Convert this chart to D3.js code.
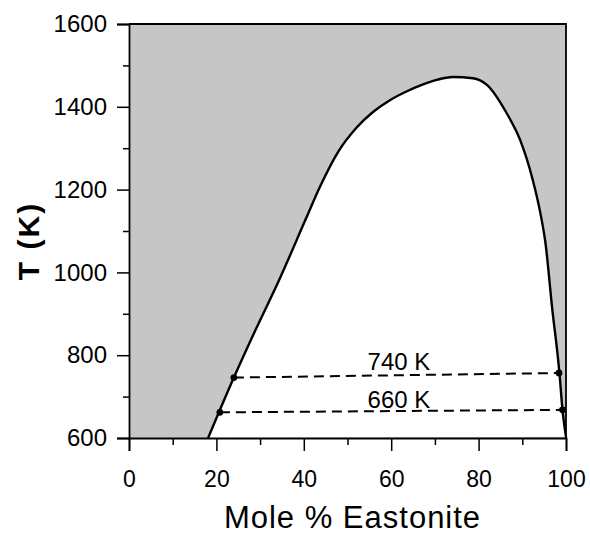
<!DOCTYPE html>
<html>
<head>
<meta charset="utf-8">
<script src="https://cdn.jsdelivr.net/npm/d3@7"></script>
<style>
  body { margin: 0; background: #fff; }
  svg { display: block; }
  text { font-family: "Liberation Sans", Arial, sans-serif; fill: #000; }
</style>
</head>
<body>
<svg id="chart" width="590" height="538"></svg>
<script>
// Miscibility-gap boundary (mole % eastonite, T in K)
const boundaryX = [18.1, 24.0, 29.0, 34.2, 40.5, 43.7, 47.9, 52.1, 55.9, 59.7, 63.5, 67.3, 70.4, 74.1, 78.7, 81.9, 86.4, 89.5, 92.4, 94.1, 95.3, 96.8, 98.5, 99.2, 100];
const boundaryT = [600, 746, 862, 978, 1130, 1207, 1292, 1350, 1388, 1416, 1437, 1454, 1465, 1472, 1469, 1453, 1385, 1320, 1223, 1145, 1071, 917, 757, 668, 603];

// Isotherm tie lines
const tieLabels = ["740 K", "660 K"];
const tieX1 = [24.0, 20.8];
const tieT1 = [746, 662];
const tieX2 = [98.4, 99.2];
const tieT2 = [757, 668];
const tieLabelX = [54.6, 54.6];
const tieLabelT = [764, 672];

const xTicks = [0, 20, 40, 60, 80, 100];
const xMinor = [10, 30, 50, 70, 90];
const yTicks = [600, 800, 1000, 1200, 1400, 1600];
const yMinor = [700, 900, 1100, 1300, 1500];

const svg = d3.select("#chart");
const mLeft = 129, mTop = 24, mRight = 566, mBottom = 438;
const x = d3.scaleLinear().domain([0, 100]).range([mLeft, mRight]);
const y = d3.scaleLinear().domain([600, 1600]).range([mBottom, mTop]);

// gray background of plot area
svg.append("rect")
  .attr("x", x(0)).attr("y", y(1600))
  .attr("width", x(100) - x(0)).attr("height", y(600) - y(1600))
  .attr("fill", "#c6c6c6");

const pts = boundaryX.map((d, i) => [d, boundaryT[i]]);
const curveLine = d3.line().x(d => x(d[0])).y(d => y(d[1])).curve(d3.curveMonotoneX);

// white interior of the gap
svg.append("path").attr("d", curveLine(pts) + "Z").attr("fill", "#fff");

// boundary curve
svg.append("path").attr("d", curveLine(pts))
  .attr("fill", "none").attr("stroke", "#000").attr("stroke-width", 2.4);

// frame (top and right)
svg.append("path")
  .attr("d", `M${x(0)},${y(1600)}H${x(100)}V${y(600)}`)
  .attr("fill", "none").attr("stroke", "#000").attr("stroke-width", 1.8);

// axes
svg.append("g").attr("class", "xmaj").attr("transform", `translate(0,${y(600)})`)
  .call(d3.axisBottom(x).tickValues(xTicks).tickSize(13).tickPadding(20).tickFormat(d3.format("d")));
svg.append("g").attr("transform", `translate(0,${y(600)})`)
  .call(d3.axisBottom(x).tickValues(xMinor).tickSize(7).tickFormat(""))
  .select(".domain").remove();
svg.append("g").attr("class", "ymaj").attr("transform", `translate(${x(0)},0)`)
  .call(d3.axisLeft(y).tickValues(yTicks).tickSize(12).tickPadding(10).tickFormat(d3.format("d")));
svg.append("g").attr("transform", `translate(${x(0)},0)`)
  .call(d3.axisLeft(y).tickValues(yMinor).tickSize(6).tickFormat(""))
  .select(".domain").remove();

svg.selectAll(".domain").attr("stroke", "#000").attr("stroke-width", 1.8);
svg.selectAll(".tick line").attr("stroke", "#000").attr("stroke-width", 1.5);
svg.selectAll(".tick text").attr("font-family", "'Liberation Sans', Arial, sans-serif").attr("fill", "#000");
svg.selectAll(".xmaj .tick text").attr("font-size", 23);
svg.selectAll(".ymaj .tick text").attr("font-size", 24);

// tie lines
tieLabels.forEach((lab, i) => {
  svg.append("line")
    .attr("x1", x(tieX1[i])).attr("y1", y(tieT1[i]))
    .attr("x2", x(tieX2[i])).attr("y2", y(tieT2[i]))
    .attr("stroke", "#000").attr("stroke-width", 2).attr("stroke-dasharray", "10,6");
  [[tieX1[i], tieT1[i]], [tieX2[i], tieT2[i]]].forEach(p => {
    svg.append("circle").attr("cx", x(p[0])).attr("cy", y(p[1])).attr("r", 3.4).attr("fill", "#000");
  });
  svg.append("text")
    .attr("x", x(tieLabelX[i])).attr("y", y(tieLabelT[i]))
    .attr("font-size", 24).text(lab);
});

// axis titles
svg.append("text")
  .attr("x", (x(0) + x(100)) / 2 + 5).attr("y", 528)
  .attr("text-anchor", "middle").attr("font-size", 31).attr("letter-spacing", 1)
  .text("Mole % Eastonite");
svg.append("text")
  .attr("transform", `translate(39,${(y(600) + y(1600)) / 2 + 10}) rotate(-90)`)
  .attr("text-anchor", "middle").attr("font-size", 30).attr("font-weight", "bold").attr("letter-spacing", 2)
  .text("T (K)");
</script>
</body>
</html>
